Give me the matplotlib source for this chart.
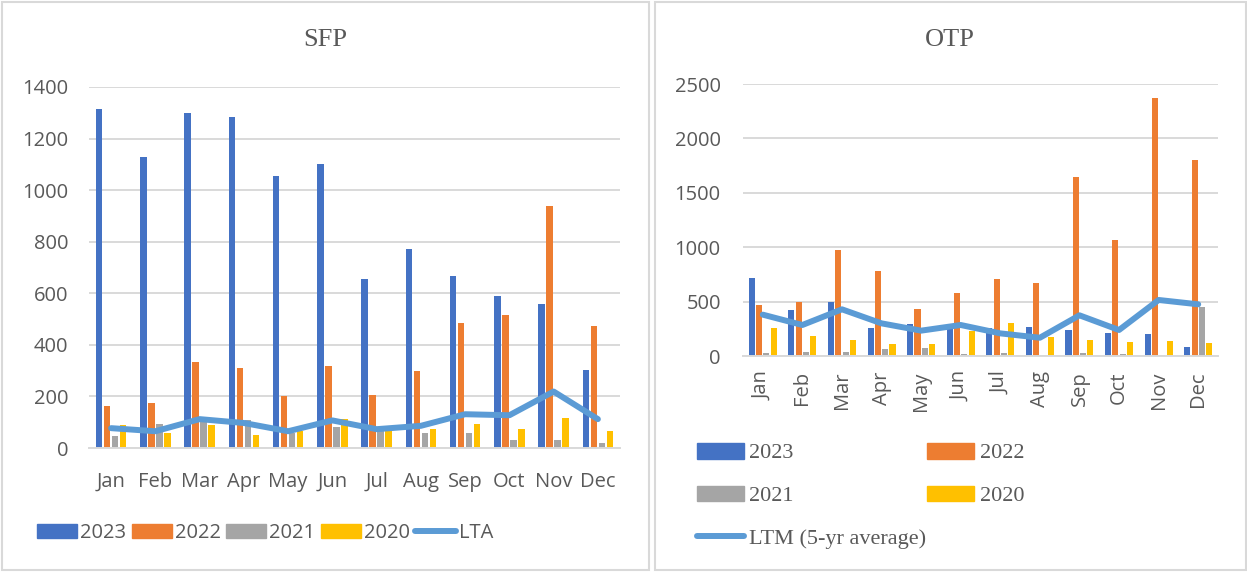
import matplotlib
matplotlib.use("Agg")
import matplotlib.pyplot as plt
import numpy as np
from matplotlib.patches import Rectangle
from matplotlib.lines import Line2D

months = ["Jan", "Feb", "Mar", "Apr", "May", "Jun", "Jul", "Aug", "Sep", "Oct", "Nov", "Dec"]
years = ["2023", "2022", "2021", "2020"]

sfp_2023 = [1313, 1130, 1298, 1283, 1054, 1100, 656, 772, 666, 591, 557, 303]
sfp_2022 = [164, 175, 335, 310, 202, 319, 206, 299, 485, 516, 939, 473]
sfp_2021 = [45, 94, 110, 110, 58, 80, 65, 60, 60, 30, 32, 21]
sfp_2020 = [90, 58, 90, 52, 65, 113, 71, 75, 95, 73, 115, 65]
sfp_lta = [77, 65, 112, 97, 65, 107, 73, 86, 131, 127, 219, 112]

otp_2023 = [715, 423, 493, 254, 297, 254, 260, 270, 239, 214, 199, 80]
otp_2022 = [469, 493, 974, 781, 429, 579, 705, 671, 1642, 1063, 2371, 1801]
otp_2021 = [25, 34, 37, 64, 77, 18, 25, 9, 28, 18, 9, 447]
otp_2020 = [260, 184, 147, 110, 107, 230, 303, 172, 150, 129, 141, 119]
otp_ltm = [380, 285, 429, 300, 233, 285, 208, 168, 374, 239, 515, 475]

colors = ["#4472C4", "#ED7D31", "#A5A5A5", "#FFC000"]
line_color = "#5B9BD5"
grid_color = "#D9D9D9"
text_color = "#595959"
sans = "Open Sans"
serif = "Liberation Serif"

W, H = 1247, 573
fig = plt.figure(figsize=(W / 100, H / 100), dpi=100)

def fx(px):
    return px / W

def fy(py):
    return 1 - py / H

# panel frames
for (x0, x1) in [(1.5, 648.5), (655, 1245.5)]:
    fig.patches.append(Rectangle((fx(x0), fy(570)), fx(x1 - x0), (570 - 2) / H,
                                 transform=fig.transFigure, fill=False,
                                 edgecolor=grid_color, linewidth=1.5, zorder=0))

def draw(ax, series, line, ylim, yticks, pitch):
    x = np.arange(len(months))
    for i, (vals, c) in enumerate(zip(series, colors)):
        ax.bar(x + (i - 1.5) * pitch, vals, width=pitch * 0.83, color=c, zorder=2)
    ax.plot(x, line, color=line_color, linewidth=4.3, solid_capstyle="round",
            solid_joinstyle="round", zorder=3)
    ax.set_xlim(-0.5, len(months) - 0.5)
    ax.set_ylim(*ylim)
    ax.set_yticks(yticks)
    ax.set_xticks(x)
    ax.yaxis.grid(True, color=grid_color, linewidth=1.4, zorder=0)
    ax.set_axisbelow(True)
    for s in ["top", "right", "left"]:
        ax.spines[s].set_visible(False)
    ax.spines["bottom"].set_color(grid_color)
    ax.spines["bottom"].set_linewidth(1.4)
    ax.tick_params(length=0, colors=text_color)

# SFP
ax1 = fig.add_axes([fx(89), fy(448), fx(620 - 89), (448 - 87) / H])
draw(ax1, [sfp_2023, sfp_2022, sfp_2021, sfp_2020], sfp_lta, (0, 1400),
     range(0, 1401, 200), 0.181)
ax1.set_xticklabels(months, fontfamily=sans, fontsize=14.5)
ax1.tick_params(axis="y", pad=15, labelsize=14.5)
ax1.tick_params(axis="x", pad=17)
for t in ax1.get_yticklabels():
    t.set_fontfamily(sans)
fig.text(fx(325), fy(40), "SFP", ha="center", va="center", fontfamily=serif,
         fontsize=19, color=text_color)

h1 = [Rectangle((0, 0), 1, 1, color=c) for c in colors] + \
     [Line2D([0], [0], color=line_color, linewidth=4.3, solid_capstyle="round")]
fig.legend(h1, years + ["LTA"], loc="center left",
           bbox_to_anchor=(fx(37), fy(533)), ncol=5, frameon=False,
           prop={"family": sans, "size": 14.5}, labelcolor=text_color,
           handlelength=2.0, handletextpad=0.15, columnspacing=0.26,
           borderpad=0, borderaxespad=0)

# OTP
ax2 = fig.add_axes([fx(743), fy(356), fx(1218 - 743), (356 - 84) / H])
draw(ax2, [otp_2023, otp_2022, otp_2021, otp_2020], otp_ltm, (0, 2500),
     range(0, 2501, 500), 0.185)
ax2.set_xticklabels(months, fontfamily=sans, fontsize=14.5, rotation=90)
ax2.tick_params(axis="y", pad=16, labelsize=14.5)
ax2.tick_params(axis="x", pad=11)
for t in ax2.get_yticklabels():
    t.set_fontfamily(sans)
fig.text(fx(950), fy(40), "OTP", ha="center", va="center", fontfamily=serif,
         fontsize=19, color=text_color)

h2 = [Rectangle((0, 0), 1, 1, color=c) for c in colors]
ltm_handle = Line2D([0], [0], color=line_color, linewidth=4.3, solid_capstyle="round")
handles = [h2[0], h2[2], ltm_handle, h2[1], h2[3]]
labels = ["2023", "2021", "LTM (5-yr average)", "2022", "2020"]
fig.legend(handles, labels, loc="center left",
           bbox_to_anchor=(fx(697), fy(496)), ncol=2, frameon=False,
           prop={"family": serif, "size": 16}, labelcolor=text_color,
           handlelength=2.1, handletextpad=0.25, columnspacing=0.05,
           labelspacing=1.0, borderpad=0, borderaxespad=0)

fig.savefig("out.png", dpi=100, facecolor="white")
